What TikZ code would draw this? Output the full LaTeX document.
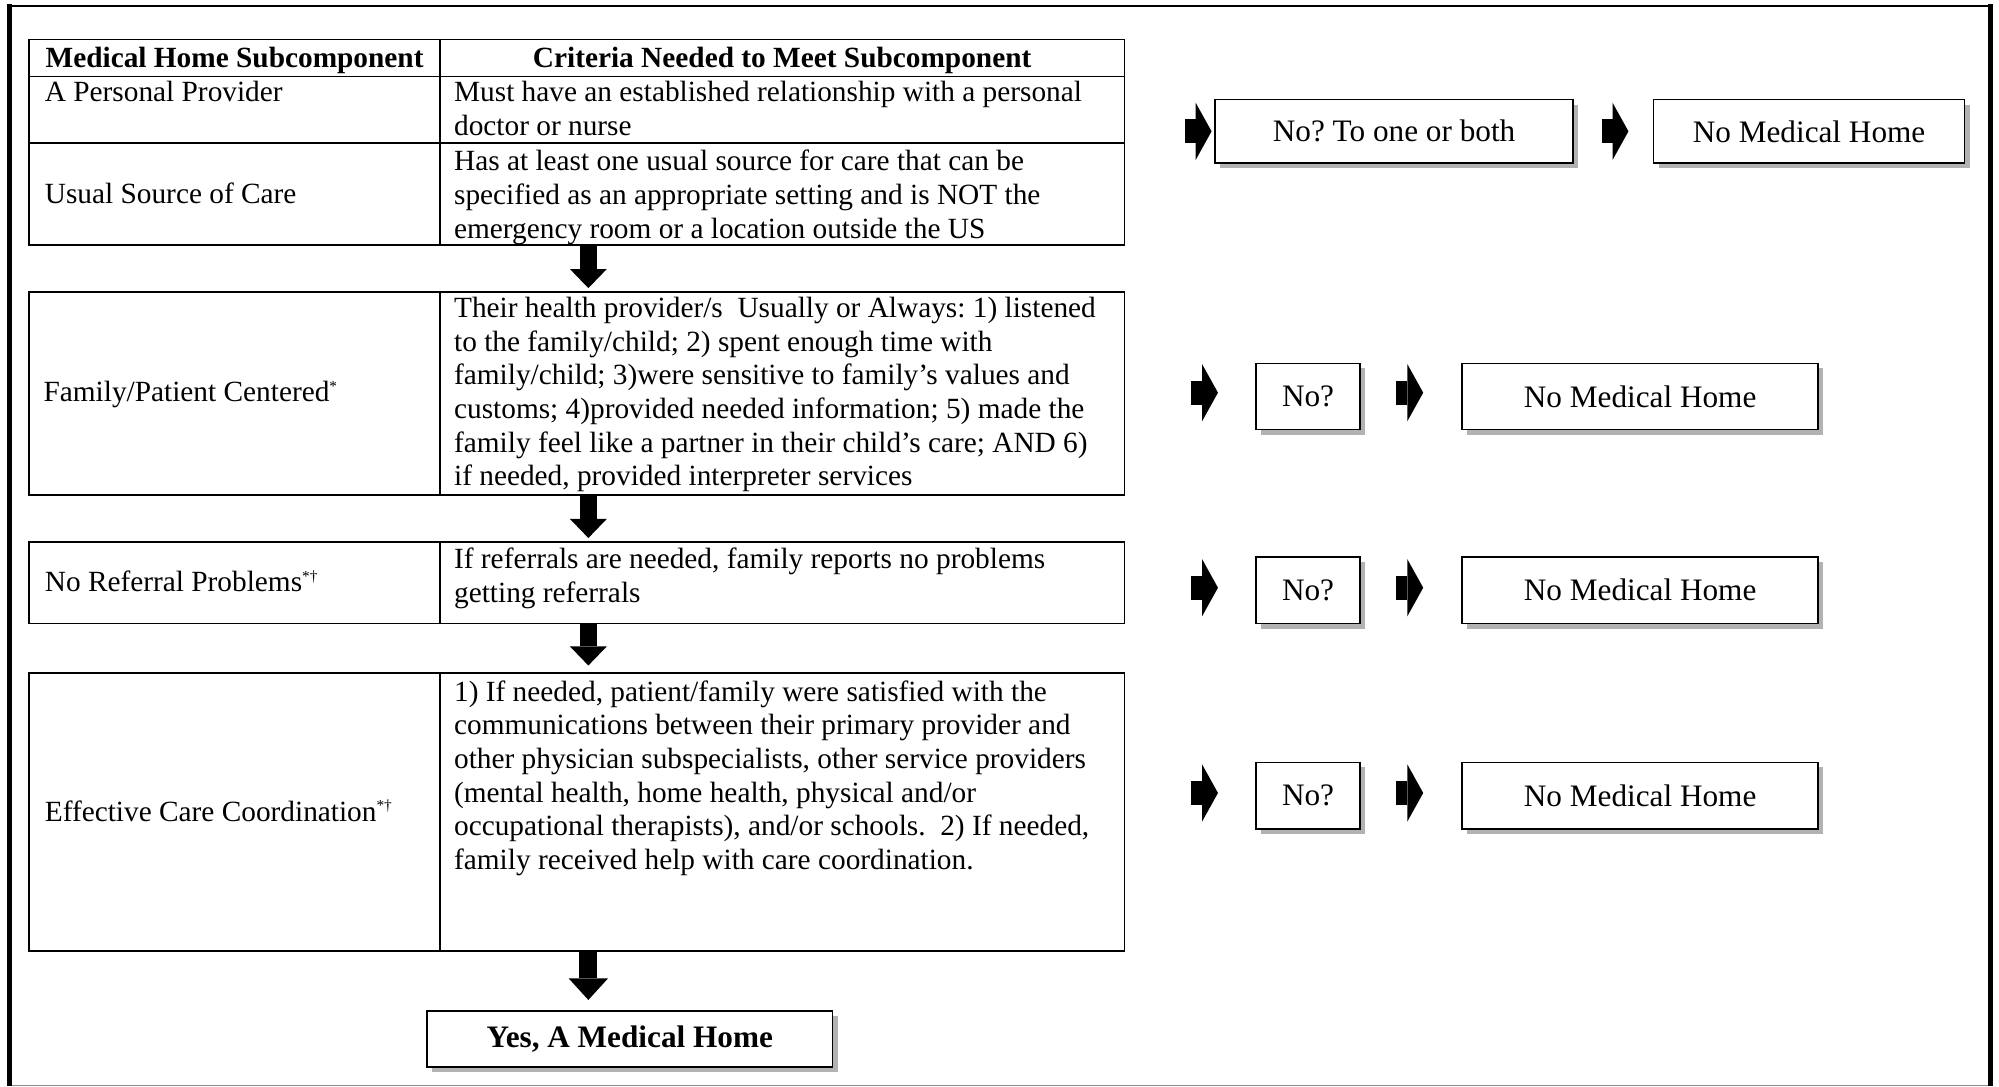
\documentclass[tikz,border=0pt]{standalone}
\usepackage{fontspec}
\setmainfont{Liberation Serif}
\usetikzlibrary{arrows.meta,shadows,calc}
\frenchspacing
\newcommand\mysupmark[1]{\raisebox{8pt}{\fontsize{12}{12}\selectfont #1}}
\begin{document}
\begin{tikzpicture}[x=1pt,y=-1pt,
  tab/.style={draw=black,line width=1.4pt,inner sep=0pt,outer sep=0pt,anchor=north west},
  txt/.style={inner sep=0pt,font=\fontsize{23}{26.4}\selectfont,align=left,anchor=base west},
  hdtxt/.style={inner sep=0pt,font=\fontsize{23}{26.4}\selectfont\bfseries,anchor=base},
  flowbox/.style={draw=black,line width=1.3pt,fill=white,inner sep=0pt,
     font=\fontsize{24.5}{28}\selectfont,
     drop shadow={shadow xshift=4pt,shadow yshift=-4pt,fill=black!30,opacity=1}},
  downarr/.style={line width=13pt,-{Triangle[width=29pt,length=15pt,line width=0pt]}},
  bigdownarr/.style={line width=14pt,-{Triangle[width=31pt,length=17pt,line width=0pt]}},
  rightarr/.style={line width=19pt,-{Triangle[width=45pt,length=12.5pt,line width=0pt]}}
]
\useasboundingbox (0,0) rectangle (1568,852);
% frame
\draw[line width=1.5pt] (8,4.7) -- (1561,4.7);
\draw[line width=4pt] (7.5,3) -- (7.5,852);
\draw[line width=4pt] (1561.3,3) -- (1561.3,852);
\draw[black!45,line width=1pt] (9.5,851.4) -- (1559,851.4);

% table rows
\node[tab,minimum width=859pt,minimum height=29pt] (hdr) at (23,31) {};
\node[tab,minimum width=859pt,minimum height=52pt] (row1) at (23,60) {};
\node[tab,minimum width=859pt,minimum height=80pt] (row2) at (23,112) {};
\node[tab,minimum width=859pt,minimum height=159pt] (row3) at (23,229) {};
\node[tab,minimum width=859pt,minimum height=64pt] (row4) at (23,425) {};
\node[tab,minimum width=859pt,minimum height=218pt] (row5) at (23,528) {};
\coordinate (dv) at (345,0);
\draw[line width=1.4pt] (dv |- hdr.north) -- (dv |- row2.south);
\draw[line width=1.4pt] (dv |- row3.north) -- (dv |- row3.south);
\draw[line width=1.4pt] (dv |- row4.north) -- (dv |- row4.south);
\draw[line width=1.4pt] (dv |- row5.north) -- (dv |- row5.south);

% header
\node[hdtxt] (h1) at (184,53) {Medical Home Subcomponent};
\node[hdtxt] (h2) at (613.5,53) {Criteria Needed to Meet Subcomponent};

% cells (multi-line nodes anchored at the baseline of their last line)
\node[txt] (t1a) at (35,80) {A Personal Provider};
\node[txt] (t1b) at (356,106.4) {Must have an established relationship with a personal\\doctor or nurse};
\node[txt] (t2a) at (35,160) {Usual Source of Care};
\node[txt] (t2b) at (356,186.8) {Has at least one usual source for care that can be\\specified as an appropriate setting and is NOT the\\emergency room or a location outside the US};
\node[txt] (t3a) at (34,315) {Family/Patient Centered\mysupmark{*}};
\node[txt] (t3b) at (356,381) {Their health provider/s~ Usually or Always: 1) listened\\to the family/child; 2) spent enough time with\\family/child; 3)were sensitive to family’s values and\\customs; 4)provided needed information; 5) made the\\family feel like a partner in their child’s care; AND 6)\\if needed, provided interpreter services};
\node[txt] (t4a) at (35,464) {No Referral Problems\mysupmark{*†}};
\node[txt] (t4b) at (356,472.4) {If referrals are needed, family reports no problems\\getting referrals};
\node[txt] (t5a) at (35,644) {Effective Care Coordination\mysupmark{*†}};
\node[txt] (t5b) at (356,682) {1) If needed, patient/family were satisfied with the\\communications between their primary provider and\\other physician subspecialists, other service providers\\(mental health, home health, physical and/or\\occupational therapists), and/or schools.~ 2) If needed,\\family received help with care coordination.};

% yes box
\node[flowbox,font=\fontsize{24.5}{28}\selectfont\bfseries,minimum width=318pt,minimum height=44pt] (yes) at (494,815) {Yes, A Medical Home};

% down arrows
\coordinate (ax) at (461.5,0);
\draw[downarr] (ax |- row2.south) -- ($(ax |- row3.north)+(0,-3)$);
\draw[downarr] (ax |- row3.south) -- ($(ax |- row4.north)+(0,-3)$);
\draw[downarr] (ax |- row4.south) -- ($(ax |- row5.north)+(0,-6)$);
\draw[bigdownarr] (ax |- row5.south) -- ($(ax |- yes.north)+(0,-8)$);

% right side boxes
\node[flowbox,minimum width=281pt,minimum height=50pt] (no1) at (1093.5,103) {No? To one or both};
\node[flowbox,minimum width=244pt,minimum height=50pt] (nmh1) at (1419,103) {No Medical Home};
\node[flowbox,minimum width=82pt,minimum height=52pt] (no2) at (1026,311) {No?};
\node[flowbox,minimum width=279pt,minimum height=52pt] (nmh2) at (1286.5,311) {No Medical Home};
\node[flowbox,minimum width=82pt,minimum height=52pt] (no3) at (1026,463) {No?};
\node[flowbox,minimum width=279pt,minimum height=52pt] (nmh3) at (1286.5,463) {No Medical Home};
\node[flowbox,minimum width=82pt,minimum height=52pt] (no4) at (1026,624) {No?};
\node[flowbox,minimum width=279pt,minimum height=52pt] (nmh4) at (1286.5,624) {No Medical Home};

% right arrows
\draw[rightarr] ($(no1.west)+(-23,0)$) -- ($(no1.west)+(-2,0)$);
\draw[rightarr] ($(nmh1.west)+(-40,0)$) -- ($(nmh1.west)+(-19,0)$);
\draw[rightarr] ($(no2.west)+(-50,-3)$) -- ($(no2.west)+(-29,-3)$);
\draw[rightarr] ($(nmh2.west)+(-51,-3)$) -- ($(nmh2.west)+(-30,-3)$);
\draw[rightarr] ($(no3.west)+(-50,-2)$) -- ($(no3.west)+(-29,-2)$);
\draw[rightarr] ($(nmh3.west)+(-51,-2)$) -- ($(nmh3.west)+(-30,-2)$);
\draw[rightarr] ($(no4.west)+(-50,-2)$) -- ($(no4.west)+(-29,-2)$);
\draw[rightarr] ($(nmh4.west)+(-51,-2)$) -- ($(nmh4.west)+(-30,-2)$);
\end{tikzpicture}
\end{document}
